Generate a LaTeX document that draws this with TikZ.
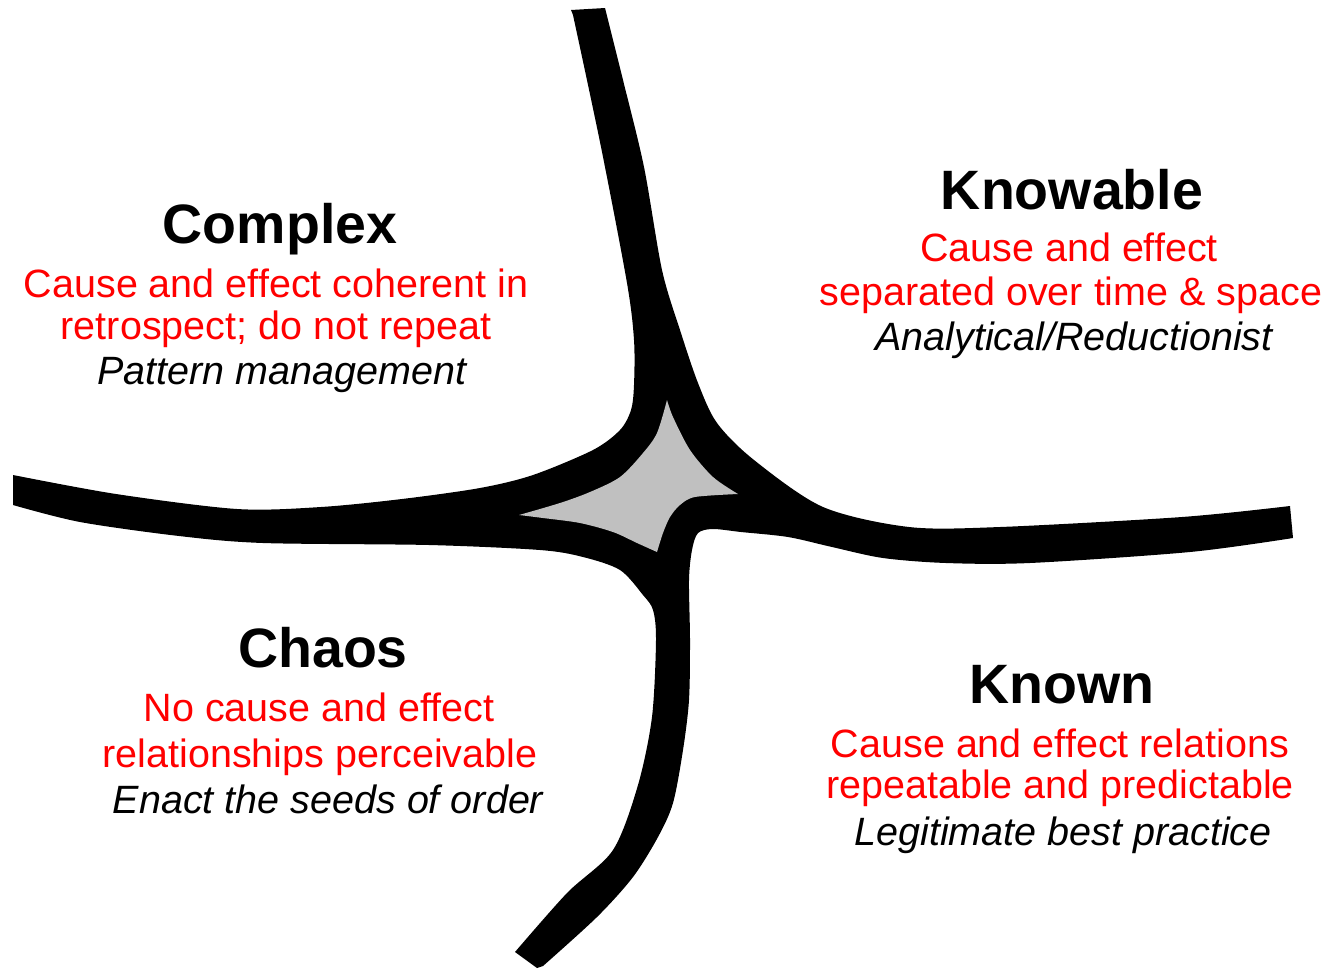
\documentclass[tikz,border=0pt]{standalone}
\usepackage{fontspec}
\setmainfont{Liberation Sans}
\usepackage{tikz}

\begin{document}
\begin{tikzpicture}[x=1pt, y=-1pt,
  arm/.style={fill=black},
  hub/.style={fill={rgb,255:red,192;green,192;blue,192}},
  quadrant/.style={font=\bfseries\fontsize{55.5}{60}\selectfont, anchor=base, inner sep=0pt},
  cause/.style={text=red, font=\fontsize{39.5}{44}\selectfont, anchor=base, inner sep=0pt},
  advice/.style={font=\itshape\fontsize{39.5}{44}\selectfont, anchor=base, inner sep=0pt}]
  \useasboundingbox (0,0) rectangle (1328,970);

  % the four arms
  \path[arm] (571,10) -- (605,8)
    -- plot[smooth] coordinates {(605,8) (623,80) (644,167) (662,270) (680,330) (698,383) (717,423) (754,460) (823,507) (909,527) (1000,527) (1182,517) (1290,506)}
    -- (1293,538)
    -- plot[smooth] coordinates {(1293,538) (1190,552) (1030,563) (946,563) (883,558) (832,547) (788,537) (741,532) (713,529) (698,533) (692,550) (689,580) (690,640) (689,700) (683,750) (673,803) (658,837) (633,877) (597,917) (543,966)}
    -- (537,968) -- (515,952)
    -- plot[smooth] coordinates {(515,952) (567,893) (613,850) (638,785) (652,717) (656,640) (653,610) (643,595) (620,570) (583,557) (540,550) (429,545) (263,543) (179,536) (80,522) (13,505)}
    -- (13,475)
    -- plot[smooth] coordinates {(13,475) (116,494) (237,509) (321,507) (402,499) (480,488) (533,475) (593,450) (620,430) (631,410) (634,385) (634,340) (627,283) (601,147) (573,15)}
    -- cycle;

  % grey centre
  \path[hub] plot[smooth] coordinates {(519,515) (560,503) (590,492) (620,477) (643,453) (657,433) (667,400)}
    -- plot[smooth] coordinates {(667,400) (673,417) (690,450) (713,477) (738,494)}
    -- plot[smooth] coordinates {(738,494) (695,497) (680,505) (670,517) (663,533) (657,552)}
    -- plot[smooth] coordinates {(657,552) (637,543) (613,532) (580,523) (543,518) (519,515)}
    -- cycle;

  \node[quadrant] (complex) at (280,243) {Complex};
  \node[cause] (complex-1) at (276,297) {Cause and effect coherent in};
  \node[cause] (complex-2) at (276,339) {retrospect; do not repeat};
  \node[advice] (complex-3) at (282,384) {Pattern management};

  \node[quadrant] (knowable) at (1072,209) {Knowable};
  \node[cause] (knowable-1) at (1069,261) {Cause and effect};
  \node[cause] (knowable-2) at (1071,305) {separated over time \& space};
  \node[advice] (knowable-3) at (1074,350) {Analytical/Reductionist};

  \node[quadrant] (chaos) at (323,667) {Chaos};
  \node[cause] (chaos-1) at (319,721) {No cause and effect};
  \node[cause] (chaos-2) at (320,767) {relationships perceivable};
  \node[advice] (chaos-3) at (328,813) {Enact the seeds of order};

  \node[quadrant] (known) at (1062,703) {Known};
  \node[cause] (known-1) at (1060,757) {Cause and effect relations};
  \node[cause] (known-2) at (1060,798) {repeatable and predictable};
  \node[advice] (known-3) at (1063,845) {Legitimate best practice};
\end{tikzpicture}
\end{document}
